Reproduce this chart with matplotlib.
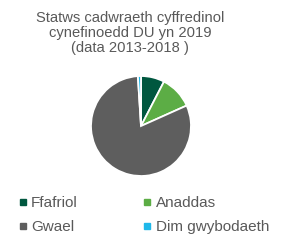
import matplotlib
matplotlib.use('Agg')
import matplotlib.pyplot as plt
from matplotlib.lines import Line2D

plt.rcParams['font.family'] = ['Liberation Sans', 'DejaVu Sans']

# data (percent of habitats)
labels = ['Ffafriol', 'Anaddas', 'Gwael', 'Dim gwybodaeth']
values = [7.6, 10.7, 80.7, 1.0]
colors = ['#00573f', '#5cad45', '#5e5e5e', '#1fb8ea']
title = 'Statws cadwraeth cyffredinol\ncynefinoedd DU yn 2019\n(data 2013-2018 )'

W, H = 284, 247
fig = plt.figure(figsize=(W / 100, H / 100), dpi=100)

fig.text(130 / W, 1 - 33 / H, title, ha='center', va='center', fontsize=10.6,
         color='#595959', linespacing=1.1)

# pie: centre (141,126) px, radius 51 px
r = 51
cx, cy = 141, 126
ax = fig.add_axes([(cx - r) / W, 1 - (cy + r) / H, 2 * r / W, 2 * r / H])
ax.pie(values, colors=colors, startangle=90, counterclock=False, radius=1,
       wedgeprops=dict(edgecolor='white', linewidth=1.3))
ax.set_xlim(-1.02, 1.02)
ax.set_ylim(-1.02, 1.02)
ax.set_aspect('equal')
ax.axis('off')

# legend laid out row by row: matplotlib fills columns first
order = [0, 2, 1, 3]
handles = [Line2D([], [], marker='s', linestyle='none', markersize=4.5,
                  markerfacecolor=colors[i], markeredgecolor=colors[i])
           for i in order]
fig.legend(handles, [labels[i] for i in order], ncol=2, loc='upper left',
           bbox_to_anchor=(19 / W, 1 - 196 / H), frameon=False,
           fontsize=11, labelcolor='#595959', handlelength=0.5,
           handletextpad=0.3, columnspacing=4.3, labelspacing=0.65,
           borderaxespad=0, borderpad=0)

fig.savefig('out.png', dpi=100)
